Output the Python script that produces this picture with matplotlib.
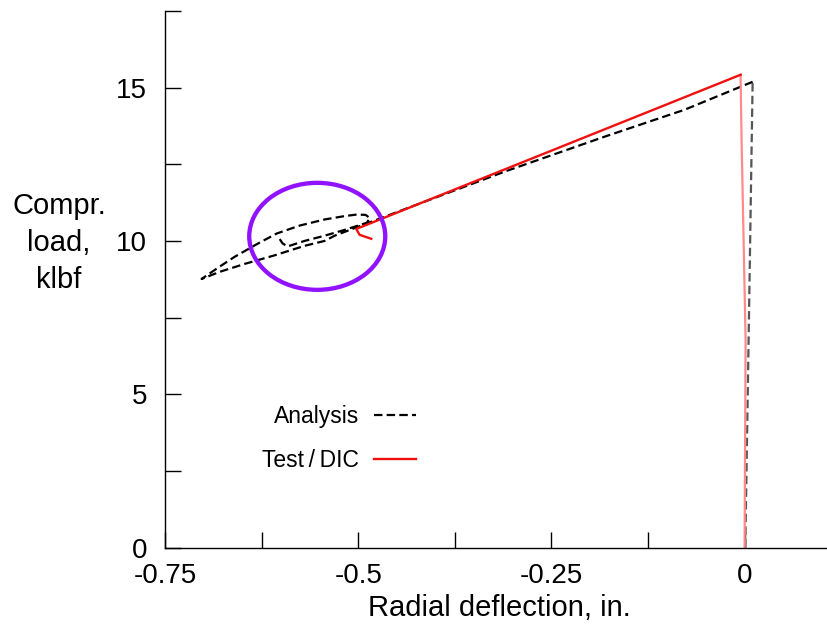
import matplotlib
matplotlib.use("Agg")
import matplotlib.pyplot as plt
from matplotlib.patches import Ellipse

plt.rcParams['font.family'] = ['Liberation Sans', 'DejaVu Sans']

# Analysis: radial deflection (in.) vs compressive load (klbf)
analysis_x = [0.0009, 0.0052, 0.0104, -0.0776, -0.1812, -0.3106, -0.4141, -0.4982,
              -0.5305, -0.5435, -0.5694, -0.6082, -0.6470, -0.6794, -0.7026,
              -0.6794, -0.6600, -0.6315, -0.6056, -0.5758, -0.5435, -0.5176,
              -0.5021, -0.4904, -0.4846, -0.4891,
              -0.5176, -0.5435, -0.5694, -0.5914, -0.5979, -0.6044]
analysis_y = [0.0, 6.77, 15.19, 14.28, 13.40, 12.26, 11.28, 10.48,
              10.17, 10.00, 9.84, 9.53, 9.25, 8.99, 8.76,
              9.16, 9.48, 9.89, 10.24, 10.50, 10.70, 10.81,
              10.86, 10.85, 10.74, 10.59,
              10.36, 10.17, 10.00, 9.82, 9.92, 10.17]
analysis_rise = 3  # points on the loading branch up to peak load

# Test / DIC measurement
test_x = [0.0, 0.0013, -0.0039, -0.0052, -0.5025, -0.4982, -0.4831]
test_y = [0.0, 6.77, 13.30, 15.42, 10.39, 10.20, 10.07]
test_rise = 4

# Highlighted post-buckling region
region_center = (-0.553, 10.15)
region_width = 0.176
region_height = 3.49

x_major = [-0.75, -0.5, -0.25, 0.0]
x_major_labels = ['-0.75', '-0.5', '-0.25', '0']
x_minor = [-0.625, -0.375, -0.125]
y_major = [0, 5, 10, 15]
y_major_labels = ['0', '5', '10', '15']
y_minor = [2.5, 7.5, 12.5, 17.5]

W, H = 828, 635
fig = plt.figure(figsize=(W / 100, H / 100), dpi=100)
ax = fig.add_axes([165 / W, 87.5 / H, 664.6 / W, 536.5 / H])

dash = (3.8, 1.9)
ax.plot(analysis_x[:analysis_rise], analysis_y[:analysis_rise], color='#555555',
        lw=1.6, dashes=dash)
l_an, = ax.plot(analysis_x[analysis_rise - 1:], analysis_y[analysis_rise - 1:],
                color='black', lw=1.6, dashes=dash, label='Analysis')
ax.plot(test_x[:test_rise], test_y[:test_rise], color='#ff8a8a', lw=1.6)
l_te, = ax.plot(test_x[test_rise - 1:], test_y[test_rise - 1:], color='#f01010',
                lw=1.7, label='Test\u2009/\u2009DIC')

ax.add_patch(Ellipse(region_center, region_width, region_height, fill=False,
                     edgecolor='#9012fe', lw=3.1, zorder=5))

ax.set_xlim(-0.75, 0.11)
ax.set_ylim(0, 17.5)
ax.set_xticks(x_major)
ax.set_xticklabels(x_major_labels)
ax.set_xticks(x_minor, minor=True)
ax.set_yticks(y_major)
ax.set_yticklabels(y_major_labels)
ax.set_yticks(y_minor, minor=True)
ax.tick_params(which='both', direction='in', length=11.5, width=1.0,
               top=False, right=False, labelsize=20)
ax.tick_params(axis='x', which='both', pad=11)
ax.tick_params(axis='y', which='both', pad=13)
for s in ('top', 'right'):
    ax.spines[s].set_visible(False)
for s in ('left', 'bottom'):
    ax.spines[s].set_linewidth(1.0)

ax.legend(handles=[l_an, l_te], loc='upper left', bbox_to_anchor=(0.146, 0.265),
          frameon=False, fontsize=16.5, markerfirst=False, handlelength=1.85,
          handletextpad=0.65, labelspacing=0.92, borderpad=0, borderaxespad=0)

fig.text(499 / W, 1 - 608 / H, 'Radial deflection, in.', ha='center', va='center',
         fontsize=21)
fig.text(59 / W, 1 - 243 / H, 'Compr.\nload,\nklbf', ha='center', va='center',
         multialignment='center', fontsize=21, linespacing=1.4)

fig.savefig('out.png', dpi=100)
